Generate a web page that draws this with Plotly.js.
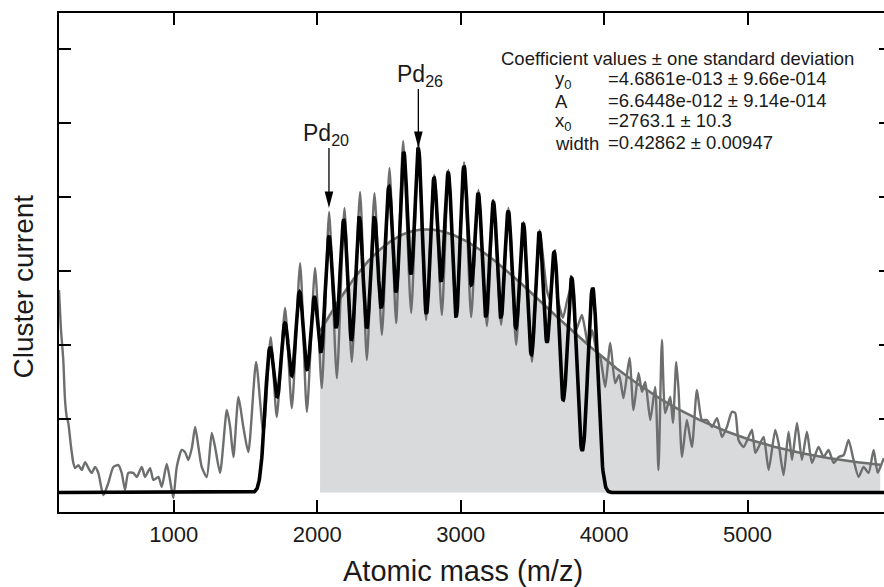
<!DOCTYPE html>
<html><head><meta charset="utf-8">
<script src="https://cdn.plot.ly/plotly-3.0.1.min.js"></script>
<style>html,body{margin:0;padding:0;overflow:hidden;background:#fff}</style>
</head><body><div id="chart"></div>
<script>
// Measured spectrum (mass in amu, current in 1e-12 A)
const greyMass = [200,214,230,242,254,265,284,300,312,335,358,382,405,428,451,474,509,544,579,614,637,660,683,718,742,777,800,835,858,893,916,951,974,997,1021,1056,1079,1102,1126,1149,1172,1195,1230,1265,1288,1323,1370,1393,1416,1451,1485,1520,1574,1625,1676,1718,1776,1823,1881,1928,1985,2032,2083,2137,2190,2241,2299,2346,2399,2451,2504,2550,2599,2655,2706,2759,2815,2869,2915,2969,3024,3073,3124,3183,3229,3282,3333,3387,3438,3497,3550,3601,3624,3654,3680,3713,3743,3775,3805,3845,3868,3891,3917,3945,3973,4008,4043,4077,4105,4135,4177,4205,4240,4264,4287,4322,4356,4379,4403,4426,4461,4480,4503,4519,4543,4577,4612,4647,4682,4717,4752,4787,4822,4856,4891,4914,4937,4972,5007,5031,5054,5077,5112,5147,5193,5216,5251,5286,5310,5345,5379,5414,5449,5495,5530,5565,5600,5635,5670,5704,5739,5774,5809,5844,5879,5907,5937,5950];
const greyCurrent = [5.47,4.39,3.58,2.50,2.04,1.88,1.23,0.80,0.66,0.74,0.61,0.82,0.66,0.53,0.69,0.53,-0.07,0.26,0.69,0.74,0.53,0.07,0.53,0.53,0.42,0.69,0.42,0.66,0.34,0.42,0.15,0.77,0.34,-0.15,0.69,1.15,1.09,0.88,1.20,1.77,1.23,0.69,0.42,1.61,1.23,0.53,2.23,1.77,0.96,2.58,1.77,1.09,3.53,1.61,4.20,2.04,4.99,2.28,6.20,2.18,6.07,2.82,7.58,3.09,7.69,3.53,8.12,3.58,8.09,4.26,8.77,4.58,9.50,4.85,9.45,4.66,8.58,4.80,8.72,4.74,8.93,4.74,8.18,4.50,7.91,4.53,7.69,3.99,7.31,3.53,7.09,5.47,5.20,6.42,5.20,4.72,5.20,5.61,4.39,4.80,4.39,3.93,4.39,3.85,3.66,2.85,4.04,2.96,3.18,2.55,3.64,2.23,3.23,2.72,2.99,1.96,2.85,0.61,4.12,2.15,2.58,1.88,3.53,2.77,0.96,1.96,1.23,2.77,1.96,1.96,1.77,2.01,1.50,1.77,2.18,2.15,1.42,1.23,1.50,1.69,1.07,1.23,1.50,0.61,1.69,1.34,0.47,1.64,0.88,1.88,0.88,1.64,0.80,1.23,0.96,1.15,0.80,0.96,1.01,1.42,0.88,0.42,0.69,0.53,1.15,0.53,0.80,0.93];

// Multi-peak fit: Pd16 ... Pd37 peak centres and peak heights
const peakMass = [1671,1775,1877,1980,2082,2185,2293,2398,2500,2603,2705,2814,2914,3023,3123,3228,3332,3437,3548,3653,3774,3920];
const peakHeight = [3.93,4.58,5.42,5.28,6.91,7.36,7.45,7.45,8.26,9.20,9.31,8.50,8.64,8.82,8.09,7.85,7.61,7.28,7.04,6.50,5.80,5.53];
const peakSigma = 34;

// Log-normal fit coefficients (current in 1e-12 A)
const fitY0 = 0.46861, fitA = 6.6448, fitX0 = 2763.1, fitWidth = 0.42862;
const fitStart = 2020, fitEnd = 5925;

const xTickVals = [1000,2000,3000,4000,5000];
const xTickText = ['1000','2000','3000','4000','5000'];

// Arrow tip heights for labels
const arrowTip20 = 7.69, arrowTip26 = 9.31;

// ---- build curves ----
const g = d => Math.exp(-d*d/(2*peakSigma*peakSigma));
let amp = peakHeight.slice();
for (let it = 0; it < 60; it++) {
  amp = peakHeight.map((h,i) => h - amp.reduce((s,a,j) => j===i ? s : s + a*g(peakMass[i]-peakMass[j]), 0));
}
const bx = [], by = [];
for (let m = 200; m <= 6000; m += 3) {
  bx.push(m);
  by.push(amp.reduce((s,a,j) => s + a*g(m-peakMass[j]), 0));
}
const fx = [], fy = [];
for (let m = fitStart; m <= fitEnd; m += 5) {
  fx.push(m);
  const t = Math.log(m/fitX0)/fitWidth;
  fy.push(fitY0 + fitA*Math.exp(-t*t));
}

const FONT = 'Liberation Sans, Arial, Helvetica, sans-serif';
const TXT = '#1a1a1a';
const L = 59, T = 13, PW = 832, PH = 499;
const X = px => (px - L)/PW;
const Y = py => (T + PH - py)/PH;

const traces = [
  {x: fx, y: fy, type:'scatter', mode:'lines', fill:'tozeroy', fillcolor:'#d9dadb', line:{width:0, color:'#d9dadb'}, hoverinfo:'skip'},
  {x: greyMass, y: greyCurrent, type:'scatter', mode:'lines', line:{color:'#6d6e6e', width:2.4, shape:'spline', smoothing:0.6}},
  {x: fx, y: fy, type:'scatter', mode:'lines', line:{color:'#6d6e6e', width:2.6}},
  {x: bx, y: by, type:'scatter', mode:'lines', line:{color:'#000000', width:3.6}}
];

function ann(text, px, py, size, xanchor, extra) {
  return Object.assign({text, x: X(px), y: Y(py), xref:'paper', yref:'paper', showarrow:false,
    xanchor: xanchor || 'center', yanchor:'middle', font:{family:FONT, size, color:TXT}}, extra || {});
}

const annotations = [
  ann('Cluster current', 22.5, 287, 28, 'center', {textangle:-90}),
  ann('Atomic mass (m/z)', 463, 571, 29),
  ann('Pd<sub>20</sub>', 326, 134, 23),
  ann('Pd<sub>26</sub>', 420, 75, 23),
  ann('Coefficient values ± one standard deviation', 677, 59, 18.5),
  ann('y<sub>0</sub>', 552.7, 80, 18.5, 'left'),
  ann('A', 552.7, 101.5, 18.5, 'left'),
  ann('x<sub>0</sub>', 552.7, 122, 18.5, 'left'),
  ann('width', 552.7, 143, 18.5, 'left'),
  ann('=4.6861e-013 ± 9.66e-014', 605.7, 78.5, 18.5, 'left'),
  ann('=6.6448e-012 ± 9.14e-014', 605.7, 100.5, 18.5, 'left'),
  ann('=2763.1 ± 10.3', 605.7, 120, 18.5, 'left'),
  ann('=0.42862 ± 0.00947', 605.7, 142, 18.5, 'left')
];

function arrowShapes(xa, ya, len) {
  return [
    {type:'line', xref:'x', yref:'y', xsizemode:'pixel', ysizemode:'pixel', xanchor:xa, yanchor:ya,
     x0:0, x1:0, y0:14, y1:len, line:{color:'#000', width:1.3}},
    {type:'path', xref:'x', yref:'y', xsizemode:'pixel', ysizemode:'pixel', xanchor:xa, yanchor:ya,
     path:'M0,0 L-4.3,16.5 L4.3,16.5 Z', fillcolor:'#000', line:{width:0}}
  ];
}
const shapes = [].concat(arrowShapes(peakMass[4], arrowTip20, 60), arrowShapes(peakMass[10], arrowTip26, 59));

const axisCommon = {showgrid:false, zeroline:false, showline:true, linecolor:'#000', linewidth:2,
  ticks:'inside', ticklen:12, tickwidth:2, tickcolor:'#000', mirror:'ticks'};

const layout = {
  width: 892, height: 587,
  margin: {l:L, r:1, t:T, b:75, pad:0},
  paper_bgcolor:'#fff', plot_bgcolor:'#fff',
  showlegend:false, hovermode:false,
  font:{family:FONT, color:TXT},
  xaxis: Object.assign({}, axisCommon, {range:[200,6000], tickmode:'array', tickvals:xTickVals, ticktext:xTickText,
    ticklabelstandoff:2, tickfont:{family:FONT, size:22, color:TXT}}),
  yaxis: Object.assign({}, axisCommon, {range:[-0.527,12.96], tick0:0, dtick:2, showticklabels:false}),
  annotations, shapes
};

Plotly.newPlot('chart', traces, layout, {staticPlot:true, displayModeBar:false});
</script></body></html>
